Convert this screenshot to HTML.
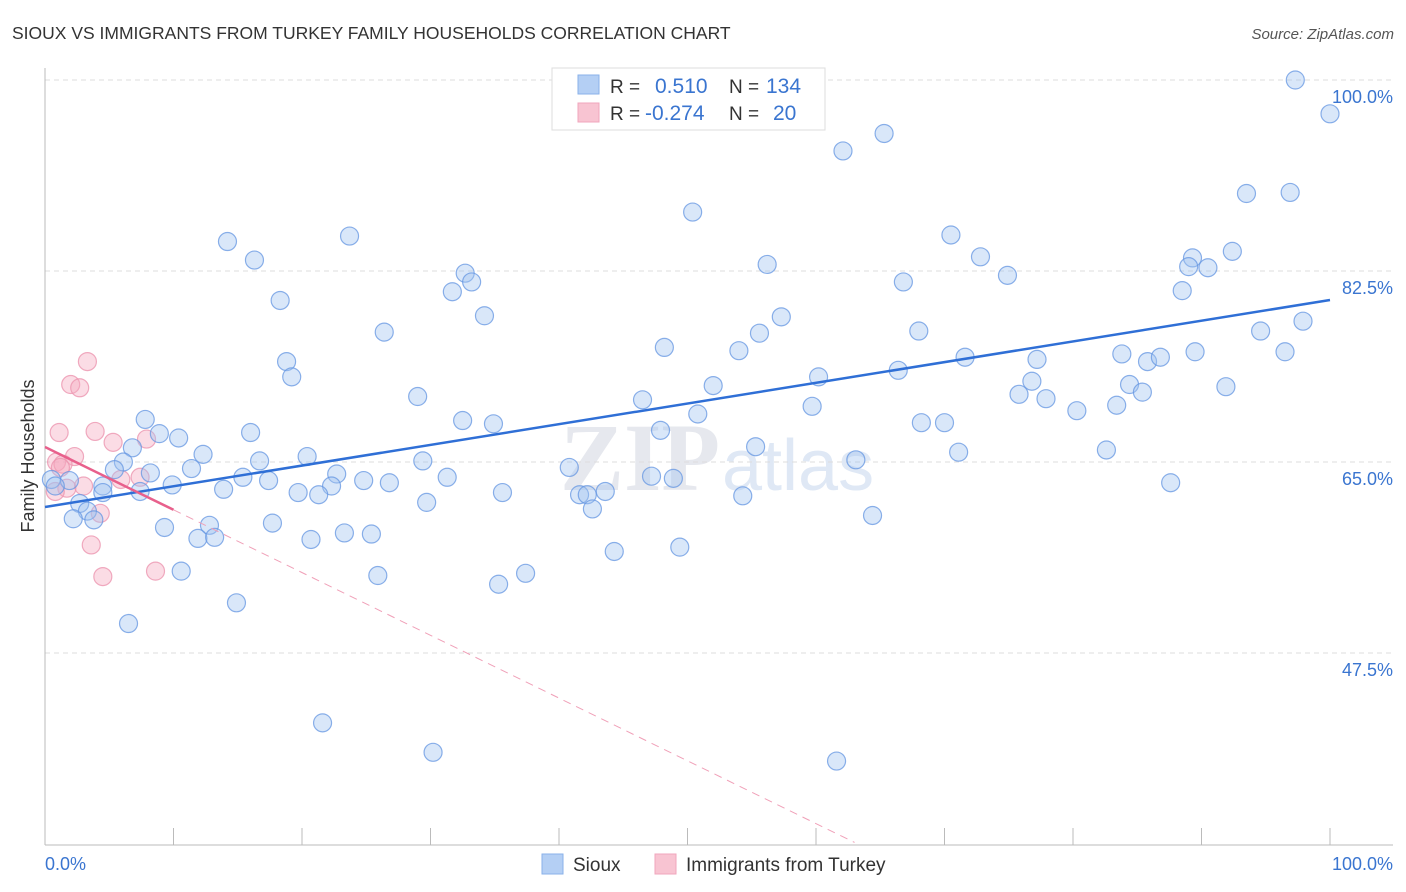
<!DOCTYPE html>
<html><head><meta charset="utf-8"><style>
body{margin:0;background:#fff;font-family:"Liberation Sans",sans-serif;}
svg{display:block}
</style></head><body>
<svg id="chart" width="1406" height="892" xmlns="http://www.w3.org/2000/svg">
<text x="12" y="39" font-size="17.5" fill="#333">SIOUX VS IMMIGRANTS FROM TURKEY FAMILY HOUSEHOLDS CORRELATION CHART</text>
<text x="1394" y="39" font-size="15" fill="#555" font-style="italic" text-anchor="end">Source: ZipAtlas.com</text>
<text x="720" y="490" font-size="96" fill="#e6e8ee" text-anchor="end" font-family="Liberation Serif,serif" font-weight="bold">ZIP</text>
<text x="722" y="490" font-size="72" fill="#dfe8f5">atlas</text>
<g id="grid"></g>
<g id="axes"></g>
<g id="pts"></g>
<g id="lines"></g>
<text transform="translate(34,456) rotate(-90)" font-size="18" fill="#333" text-anchor="middle">Family Households</text>
<text x="45" y="870" font-size="18" fill="#3a75d0">0.0%</text>
<text x="1393" y="870" font-size="18" fill="#3a75d0" text-anchor="end">100.0%</text>
<g>
<rect x="552" y="68" width="273" height="62" fill="#fff" stroke="#ddd"/>
<rect x="578" y="75" width="21" height="19" fill="#b4cff4" stroke="#8ab2ea"/>
<rect x="578" y="103" width="21" height="19" fill="#f8c4d2" stroke="#f0a6bc"/>
<text x="610" y="93" font-size="19" fill="#333">R =</text>
<text x="655" y="93" font-size="21" fill="#3a75d0">0.510</text>
<text x="729" y="93" font-size="19" fill="#333">N =</text>
<text x="766" y="93" font-size="21" fill="#3a75d0">134</text>
<text x="610" y="120" font-size="19" fill="#333">R =</text>
<text x="645" y="120" font-size="21" fill="#3a75d0">-0.274</text>
<text x="729" y="120" font-size="19" fill="#333">N =</text>
<text x="773" y="120" font-size="21" fill="#3a75d0">20</text>
</g>
<g>
<rect x="542" y="854" width="21" height="20" fill="#b4cff4" stroke="#8ab2ea"/>
<text x="573" y="871" font-size="19" fill="#333">Sioux</text>
<rect x="655" y="854" width="21" height="20" fill="#f8c4d2" stroke="#f0a6bc"/>
<text x="686" y="871" font-size="19" fill="#333">Immigrants from Turkey</text>
</g>
</svg>
<script>
const yTicks=[100,82.5,65,47.5];
const yTickLabels=["100.0%","82.5%","65.0%","47.5%"];
const siouxX=[97.3,100,65.3,62.1,93.5,96.9,50.4,14.2,23.7,70.5,16.3,72.8,56.2,92.4,89.3,89.0,90.5,32.7,33.2,31.7,74.9,66.8,88.5,18.3,34.2,57.3,26.4,55.6,68.0,94.6,97.9,48.2,54.0,83.8,89.5,96.5,71.6,85.8,86.8,77.2,18.8,19.2,66.4,60.2,52.0,76.8,84.4,85.4,91.9,75.8,77.9,29.0,46.5,59.7,83.4,80.3,50.8,32.5,34.9,68.2,70.0,7.8,16.0,8.9,10.4,47.9,71.1,55.3,82.6,6.8,12.3,20.4,6.1,16.7,29.4,63.1,40.8,5.4,11.4,8.2,15.4,17.4,22.7,24.8,31.3,26.8,47.2,48.9,0.5,1.9,0.8,4.5,4.5,7.4,9.9,13.9,22.3,19.7,21.3,35.6,41.6,42.2,43.6,29.7,54.3,2.7,3.3,2.2,3.8,87.6,42.6,64.4,9.3,12.8,17.7,11.9,13.2,20.7,23.3,25.4,44.3,49.4,10.6,25.9,37.4,35.3,14.9,6.5,21.6,30.2,61.6,43.4];
const siouxY=[100,96.9,95.1,93.5,89.6,89.7,87.9,85.2,85.7,85.8,83.5,83.8,83.1,84.3,83.7,82.9,82.8,82.3,81.5,80.6,82.1,81.5,80.7,79.8,78.4,78.3,76.9,76.8,77.0,77.0,77.9,75.5,75.2,74.9,75.1,75.1,74.6,74.2,74.6,74.4,74.2,72.8,73.4,72.8,72.0,72.4,72.1,71.4,71.9,71.2,70.8,71.0,70.7,70.1,70.2,69.7,69.4,68.8,68.5,68.6,68.6,68.9,67.7,67.6,67.2,67.9,65.9,66.4,66.1,66.3,65.7,65.5,65.0,65.1,65.1,65.2,64.5,64.3,64.4,64.0,63.6,63.3,63.9,63.3,63.6,63.1,63.7,63.5,63.4,63.3,62.8,62.8,62.2,62.3,62.9,62.5,62.8,62.2,62.0,62.2,62.0,62.0,62.3,61.3,61.9,61.2,60.5,59.8,59.7,63.1,60.7,60.1,59.0,59.2,59.4,58.0,58.1,57.9,58.5,58.4,56.8,57.2,55.0,54.6,54.8,53.8,52.1,50.2,41.1,38.4,37.6,100.2];
const turkeyX=[3.3,2.0,2.7,1.1,3.9,5.3,7.9,2.3,0.9,1.4,5.9,7.4,3.0,1.7,0.8,4.3,3.6,4.5,8.6,1.2];
const turkeyY=[74.2,72.1,71.8,67.7,67.8,66.8,67.1,65.5,65.0,64.8,63.4,63.6,62.8,62.6,62.3,60.3,57.4,54.5,55.0,64.5];
const siouxTrend=[60.88,79.84];
const turkeyTrend=[66.37,-0.575];

const NS="http://www.w3.org/2000/svg";
const X0=45,X1=1330,YTOP=80,PXPER=191/17.5;
const sx=v=>X0+(X1-X0)*v/100;
const sy=v=>YTOP+(100-v)*PXPER;
function mk(tag,attrs,parent){const e=document.createElementNS(NS,tag);for(const k in attrs)e.setAttribute(k,attrs[k]);parent.appendChild(e);return e;}
const grid=document.getElementById('grid'),axes=document.getElementById('axes'),pts=document.getElementById('pts'),lines=document.getElementById('lines');
yTicks.forEach((t,i)=>{
 const l=mk('line',{x1:45,x2:1393,y1:sy(t),y2:sy(t),stroke:'#ddd','stroke-dasharray':'5,4'},grid);
 
 
 const tx=mk('text',{x:1393,y:sy(t)+23,'font-size':18,fill:'#3a75d0','text-anchor':'end'},grid);
 tx.textContent=yTickLabels[i];
 
 
});
let a=mk('line',{x1:45,x2:45,y1:68,y2:845,stroke:'#bbb'},axes);


a=mk('line',{x1:45,x2:1393,y1:845,y2:845,stroke:'#bbb'},axes);


for(let i=0;i<=10;i++){
 const t=mk('line',{x1:sx(i*10),x2:sx(i*10),y1:828,y2:845,stroke:'#bbb'},axes);
 
 
}
turkeyX.forEach((v,i)=>{
 const c=mk('circle',{cx:sx(v),cy:sy(turkeyY[i]),r:9,fill:'rgba(244,168,190,0.4)',stroke:'rgba(236,150,176,0.8)','stroke-width':1.2},pts);
 
 
});
siouxX.forEach((v,i)=>{
 const c=mk('circle',{cx:sx(v),cy:sy(siouxY[i]),r:9,fill:'rgba(160,196,240,0.4)',stroke:'rgba(100,150,225,0.75)','stroke-width':1.2},pts);
 
 
});
let ln=mk('line',{x1:sx(0),y1:sy(siouxTrend[0]),x2:sx(100),y2:sy(siouxTrend[1]),stroke:'#2f6fd6','stroke-width':2.5},lines);


const tEnd=10,tDash=63;
ln=mk('line',{x1:sx(0),y1:sy(turkeyTrend[0]),x2:sx(tEnd),y2:sy(turkeyTrend[0]+turkeyTrend[1]*tEnd),stroke:'#e8608c','stroke-width':2.5},lines);


ln=mk('line',{x1:sx(tEnd),y1:sy(turkeyTrend[0]+turkeyTrend[1]*tEnd),x2:sx(tDash),y2:sy(turkeyTrend[0]+turkeyTrend[1]*tDash),stroke:'#f0a0b8','stroke-width':1,'stroke-dasharray':'8,6'},lines);


</script>
</body></html>
